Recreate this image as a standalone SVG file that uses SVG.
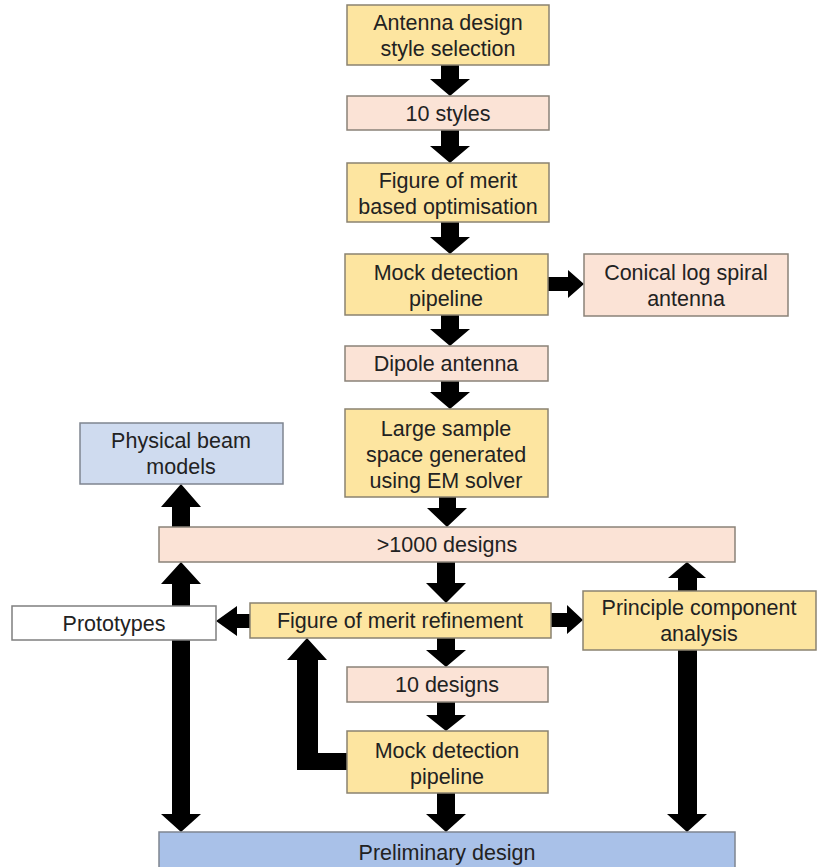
<svg xmlns="http://www.w3.org/2000/svg" width="817" height="867" viewBox="0 0 817 867">
<style>
.y{fill:#fde5a0;stroke:#8a8270;stroke-width:1.5}
.p{fill:#fbe3d6;stroke:#8a8278;stroke-width:1.5}
.b1{fill:#cfdbef;stroke:#7f8590;stroke-width:1.5}
.b2{fill:#a9c1e8;stroke:#7f8590;stroke-width:1.5}
.w{fill:#ffffff;stroke:#7f7f7f;stroke-width:1.5}
text{font-family:"Liberation Sans",Arial,sans-serif;font-size:21.5px;fill:#222;text-anchor:middle}
.a{fill:#000}
</style>
<rect width="817" height="867" fill="#fff"/>
<g id="connectors">
<polygon class="a" points="441,65 459,65 459,79 470,79 450,96 430,79 441,79"/>
<polygon class="a" points="441,130 459,130 459,146 470,146 450,163 430,146 441,146"/>
<polygon class="a" points="441,222 459,222 459,237 470,237 450,254 430,237 441,237"/>
<polygon class="a" points="441,315 459,315 459,329 470,329 450,346 430,329 441,329"/>
<polygon class="a" points="441,381 459,381 459,392 470,392 450,409 430,392 441,392"/>
<polygon class="a" points="439,497 456,497 456,508 467,508 447,527 427,508 439,508"/>
<polygon class="a" points="437,562 455,562 455,583 466,583 446,603 426,583 437,583"/>
<polygon class="a" points="437,638 455,638 455,650 466,650 446,667 426,650 437,650"/>
<polygon class="a" points="437,702 455,702 455,715 466,715 446,731 426,715 437,715"/>
<polygon class="a" points="437,793 455,793 455,814 466,814 446,832 426,814 437,814"/>
<polygon class="a" points="548,277 568,277 568,270 584,284 568,298 568,291 548,291"/>
<polygon class="a" points="551,613 567,613 567,605 583,620 567,634 567,627 551,627"/>
<polygon class="a" points="250,614 237,614 237,606 216,621 237,636 237,628 250,628"/>
<polygon class="a" points="172,527 190,527 190,507 201,507 181,484 161,507 172,507"/>
<polygon class="a" points="172,584 161,584 181,562 201,584 190,584 190,814 201,814 181,832 161,814 172,814"/>
<polygon class="a" points="678,591 678,578 668,578 687,562 706,578 697,578 697,591"/>
<polygon class="a" points="678,650 697,650 697,814 707,814 687,832 667,814 678,814"/>
<polygon class="a" points="347,753 318,753 318,660 327,660 307,638 287,660 297,660 297,770 347,770"/>
</g>
<g id="n1"><rect class="y" x="347" y="5" width="202" height="60"/><text x="448" y="30">Antenna design</text><text x="448" y="56">style selection</text></g>
<g id="n2"><rect class="p" x="347" y="96" width="202" height="34"/><text x="448" y="121">10 styles</text></g>
<g id="n3"><rect class="y" x="347" y="163" width="202" height="59"/><text x="448" y="188">Figure of merit</text><text x="448" y="214">based optimisation</text></g>
<g id="n4"><rect class="y" x="345" y="254" width="203" height="61"/><text x="446" y="280">Mock detection</text><text x="446" y="306">pipeline</text></g>
<g id="n5"><rect class="p" x="584" y="254" width="204" height="62"/><text x="686" y="280">Conical log spiral</text><text x="686" y="306">antenna</text></g>
<g id="n6"><rect class="p" x="345" y="346" width="203" height="35"/><text x="446" y="371">Dipole antenna</text></g>
<g id="n7"><rect class="y" x="345" y="409" width="203" height="88"/><text x="446" y="436">Large sample</text><text x="446" y="462">space generated</text><text x="446" y="488">using EM solver</text></g>
<g id="n8"><rect class="b1" x="80" y="423" width="203" height="61"/><text x="181" y="448">Physical beam</text><text x="181" y="474">models</text></g>
<g id="n9"><rect class="p" x="159" y="527" width="576" height="35"/><text x="447" y="552">&gt;1000 designs</text></g>
<g id="n10"><rect class="w" x="12" y="606" width="204" height="34"/><text x="114" y="631">Prototypes</text></g>
<g id="n11"><rect class="y" x="250" y="603" width="301" height="35"/><text x="400" y="628">Figure of merit refinement</text></g>
<g id="n12"><rect class="y" x="583" y="591" width="233" height="59"/><text x="699" y="615">Principle component</text><text x="699" y="641">analysis</text></g>
<g id="n13"><rect class="p" x="347" y="667" width="201" height="35"/><text x="447" y="692">10 designs</text></g>
<g id="n14"><rect class="y" x="347" y="731" width="201" height="62"/><text x="447" y="758">Mock detection</text><text x="447" y="784">pipeline</text></g>
<g id="n15"><rect class="b2" x="159" y="832" width="576" height="40"/><text x="447" y="860">Preliminary design</text></g>
</svg>
